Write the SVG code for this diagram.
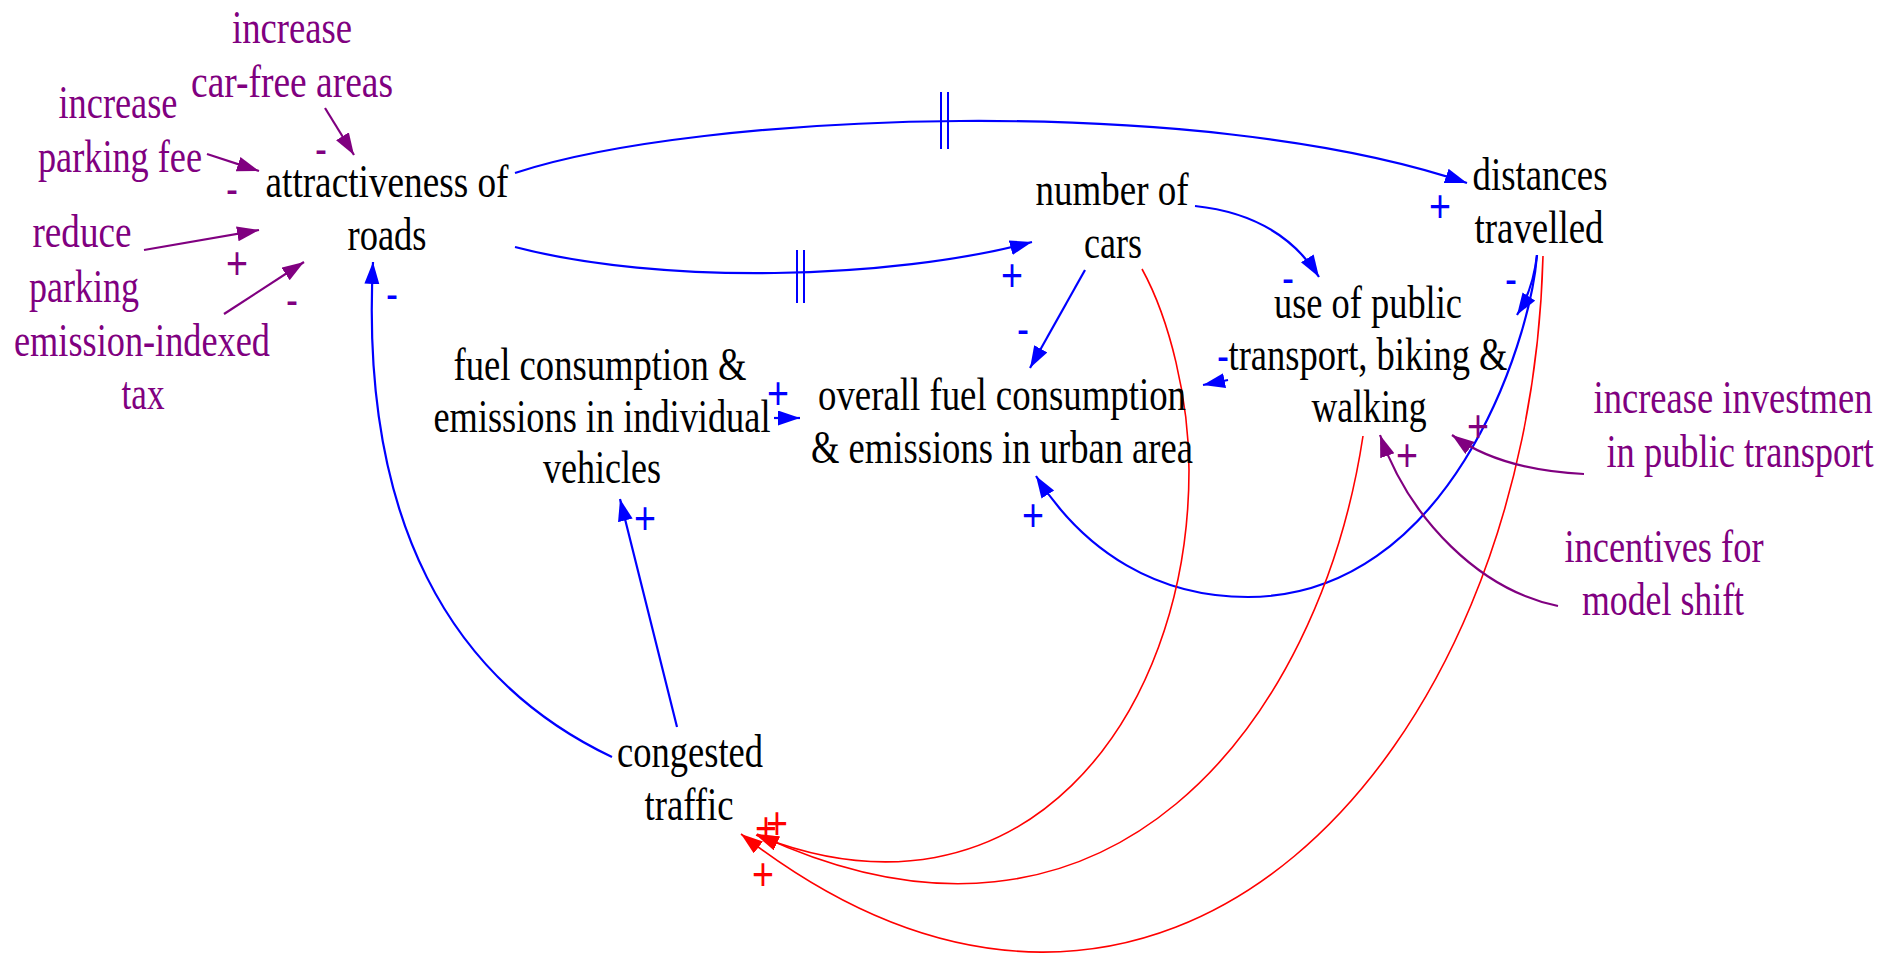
<svg xmlns="http://www.w3.org/2000/svg" width="1898" height="953" viewBox="0 0 1898 953">
<style>
text{font-family:"Liberation Serif","Times New Roman",serif;font-size:46px;text-anchor:middle;}
.k{fill:#000;}
.p{fill:#800080;}
.pol text{font-family:"Liberation Sans",Arial,sans-serif;font-size:46px;}
.pb{fill:#0000FF;}
.pr{fill:#FF0000;}
.cb{fill:none;stroke:#0000FF;stroke-width:2.2;}
.cr{fill:none;stroke:#FF0000;stroke-width:1.6;}
.cp{fill:none;stroke:#800080;stroke-width:2.2;}
.hash{stroke:#0000FF;stroke-width:2;}
</style>
<defs>
<marker id="ab" markerUnits="userSpaceOnUse" markerWidth="22" markerHeight="16" refX="22" refY="7.5" orient="auto"><path d="M0,0 L22,7.5 L0,15 z" fill="#0000FF"/></marker>
<marker id="ar" markerUnits="userSpaceOnUse" markerWidth="22" markerHeight="16" refX="22" refY="7.5" orient="auto"><path d="M0,0 L22,7.5 L0,15 z" fill="#FF0000"/></marker>
<marker id="ap" markerUnits="userSpaceOnUse" markerWidth="22" markerHeight="16" refX="22" refY="7.5" orient="auto"><path d="M0,0 L22,7.5 L0,15 z" fill="#800080"/></marker>
</defs>
<rect width="1898" height="953" fill="#fff"/>

<g id="connectors">
<path class="cb" d="M515,173 C700,112 1200,92 1467,183" marker-end="url(#ab)"/>
<line class="hash" x1="941" y1="92" x2="941" y2="149"/>
<line class="hash" x1="948" y1="92" x2="948" y2="149"/>
<path class="cb" d="M515,247 C660,285 890,280 1032,242" marker-end="url(#ab)"/>
<line class="hash" x1="797" y1="250" x2="797" y2="303"/>
<line class="hash" x1="804" y1="250" x2="804" y2="303"/>
<path class="cb" d="M612,757 C450,680 360,520 373,262" marker-end="url(#ab)"/>
<path class="cb" d="M677,727 L620,499" marker-end="url(#ab)"/>
<path class="cb" d="M774,418 L800,418" marker-end="url(#ab)"/>
<path class="cb" d="M1085,270 L1030,368" marker-end="url(#ab)"/>
<path class="cb" d="M1195,206 Q1280,215 1319,277" marker-end="url(#ab)"/>
<path class="cb" d="M1228,380 L1203,385" marker-end="url(#ab)"/>
<path class="cb" d="M1537,255 Q1533,290 1517,315" marker-end="url(#ab)"/>
<path class="cb" d="M1537,255 C1530,345 1448,597 1248,597 C1158,597 1085,553 1036,476" marker-end="url(#ab)"/>
<path class="cr" d="M1142,269 C1170,320 1189,400 1189,470 C1189,720 1020,940 756,835" marker-end="url(#ar)"/>
<path class="cr" d="M1363,436 C1320,720 1110,1000 757,834" marker-end="url(#ar)"/>
<path class="cr" d="M1543,256 C1530,760 1160,1160 741,834" marker-end="url(#ar)"/>
<path class="cp" d="M325,108 L354,155" marker-end="url(#ap)"/>
<path class="cp" d="M207,154 L259,171" marker-end="url(#ap)"/>
<path class="cp" d="M144,250 L259,230" marker-end="url(#ap)"/>
<path class="cp" d="M224,314 L304,262" marker-end="url(#ap)"/>
<path class="cp" d="M1584,474 Q1500,470 1452,435" marker-end="url(#ap)"/>
<path class="cp" d="M1558,606 C1480,590 1410,520 1380,435" marker-end="url(#ap)"/>
<g class="pol">
<text class="p" x="321" y="165" textLength="12" lengthAdjust="spacingAndGlyphs">-</text>
<text class="p" x="232" y="205" textLength="12" lengthAdjust="spacingAndGlyphs">-</text>
<text class="p" x="237" y="279" textLength="22" lengthAdjust="spacingAndGlyphs">+</text>
<text class="p" x="292" y="316" textLength="12" lengthAdjust="spacingAndGlyphs">-</text>
<text class="p" x="1478" y="442" textLength="22" lengthAdjust="spacingAndGlyphs">+</text>
<text class="p" x="1407" y="471" textLength="22" lengthAdjust="spacingAndGlyphs">+</text>
<text class="pb" x="392" y="310" textLength="12" lengthAdjust="spacingAndGlyphs">-</text>
<text class="pb" x="1012" y="291" textLength="22" lengthAdjust="spacingAndGlyphs">+</text>
<text class="pb" x="1440" y="222" textLength="22" lengthAdjust="spacingAndGlyphs">+</text>
<text class="pb" x="1023" y="345" textLength="12" lengthAdjust="spacingAndGlyphs">-</text>
<text class="pb" x="778" y="409" textLength="22" lengthAdjust="spacingAndGlyphs">+</text>
<text class="pb" x="645" y="534" textLength="22" lengthAdjust="spacingAndGlyphs">+</text>
<text class="pb" x="1033" y="531" textLength="22" lengthAdjust="spacingAndGlyphs">+</text>
<text class="pb" x="1288" y="294" textLength="12" lengthAdjust="spacingAndGlyphs">-</text>
<text class="pb" x="1511" y="295" textLength="12" lengthAdjust="spacingAndGlyphs">-</text>
<text class="pb" x="1223" y="372" textLength="12" lengthAdjust="spacingAndGlyphs">-</text>
<text class="pr" x="777" y="839" textLength="22" lengthAdjust="spacingAndGlyphs">+</text>
<text class="pr" x="766" y="844" textLength="22" lengthAdjust="spacingAndGlyphs">+</text>
<text class="pr" x="763" y="890" textLength="22" lengthAdjust="spacingAndGlyphs">+</text>
</g>
</g>

<g id="attractiveness_of_roads" class="k">
<text x="387" y="197" textLength="243" lengthAdjust="spacingAndGlyphs">attractiveness of</text>
<text x="387" y="250" textLength="79" lengthAdjust="spacingAndGlyphs">roads</text>
</g>
<g id="number_of_cars" class="k">
<text x="1112" y="205" textLength="153" lengthAdjust="spacingAndGlyphs">number of</text>
<text x="1113" y="258" textLength="58" lengthAdjust="spacingAndGlyphs">cars</text>
</g>
<g id="distances_travelled" class="k">
<text x="1540" y="190" textLength="135" lengthAdjust="spacingAndGlyphs">distances</text>
<text x="1539" y="243" textLength="129" lengthAdjust="spacingAndGlyphs">travelled</text>
</g>
<g id="use_of_public_transport" class="k">
<text x="1368" y="318" textLength="188" lengthAdjust="spacingAndGlyphs">use of public</text>
<text x="1368" y="370" textLength="279" lengthAdjust="spacingAndGlyphs">transport, biking &amp;</text>
<text x="1369" y="422" textLength="115" lengthAdjust="spacingAndGlyphs">walking</text>
</g>
<g id="fuel_individual" class="k">
<text x="600" y="380" textLength="293" lengthAdjust="spacingAndGlyphs">fuel consumption &amp;</text>
<text x="602" y="432" textLength="337" lengthAdjust="spacingAndGlyphs">emissions in individual</text>
<text x="602" y="483" textLength="118" lengthAdjust="spacingAndGlyphs">vehicles</text>
</g>
<g id="overall_fuel" class="k">
<text x="1002" y="410" textLength="368" lengthAdjust="spacingAndGlyphs">overall fuel consumption</text>
<text x="1002" y="463" textLength="382" lengthAdjust="spacingAndGlyphs">&amp; emissions in urban area</text>
</g>
<g id="congested_traffic" class="k">
<text x="690" y="767" textLength="146" lengthAdjust="spacingAndGlyphs">congested</text>
<text x="689" y="820" textLength="89" lengthAdjust="spacingAndGlyphs">traffic</text>
</g>
<g id="increase_car_free_areas" class="p">
<text x="292" y="43" textLength="120" lengthAdjust="spacingAndGlyphs">increase</text>
<text x="292" y="97" textLength="202" lengthAdjust="spacingAndGlyphs">car-free areas</text>
</g>
<g id="increase_parking_fee" class="p">
<text x="118" y="118" textLength="119" lengthAdjust="spacingAndGlyphs">increase</text>
<text x="120" y="172" textLength="164" lengthAdjust="spacingAndGlyphs">parking fee</text>
</g>
<g id="reduce_parking" class="p">
<text x="82" y="247" textLength="99" lengthAdjust="spacingAndGlyphs">reduce</text>
<text x="84" y="302" textLength="110" lengthAdjust="spacingAndGlyphs">parking</text>
</g>
<g id="emission_indexed_tax" class="p">
<text x="142" y="356" textLength="256" lengthAdjust="spacingAndGlyphs">emission-indexed</text>
<text x="143" y="409" textLength="43" lengthAdjust="spacingAndGlyphs">tax</text>
</g>
<g id="increase_investment" class="p">
<text x="1733" y="413" textLength="279" lengthAdjust="spacingAndGlyphs">increase investmen</text>
<text x="1740" y="467" textLength="267" lengthAdjust="spacingAndGlyphs">in public transport</text>
</g>
<g id="incentives_model_shift" class="p">
<text x="1664" y="562" textLength="199" lengthAdjust="spacingAndGlyphs">incentives for</text>
<text x="1663" y="615" textLength="162" lengthAdjust="spacingAndGlyphs">model shift</text>
</g>
</svg>
